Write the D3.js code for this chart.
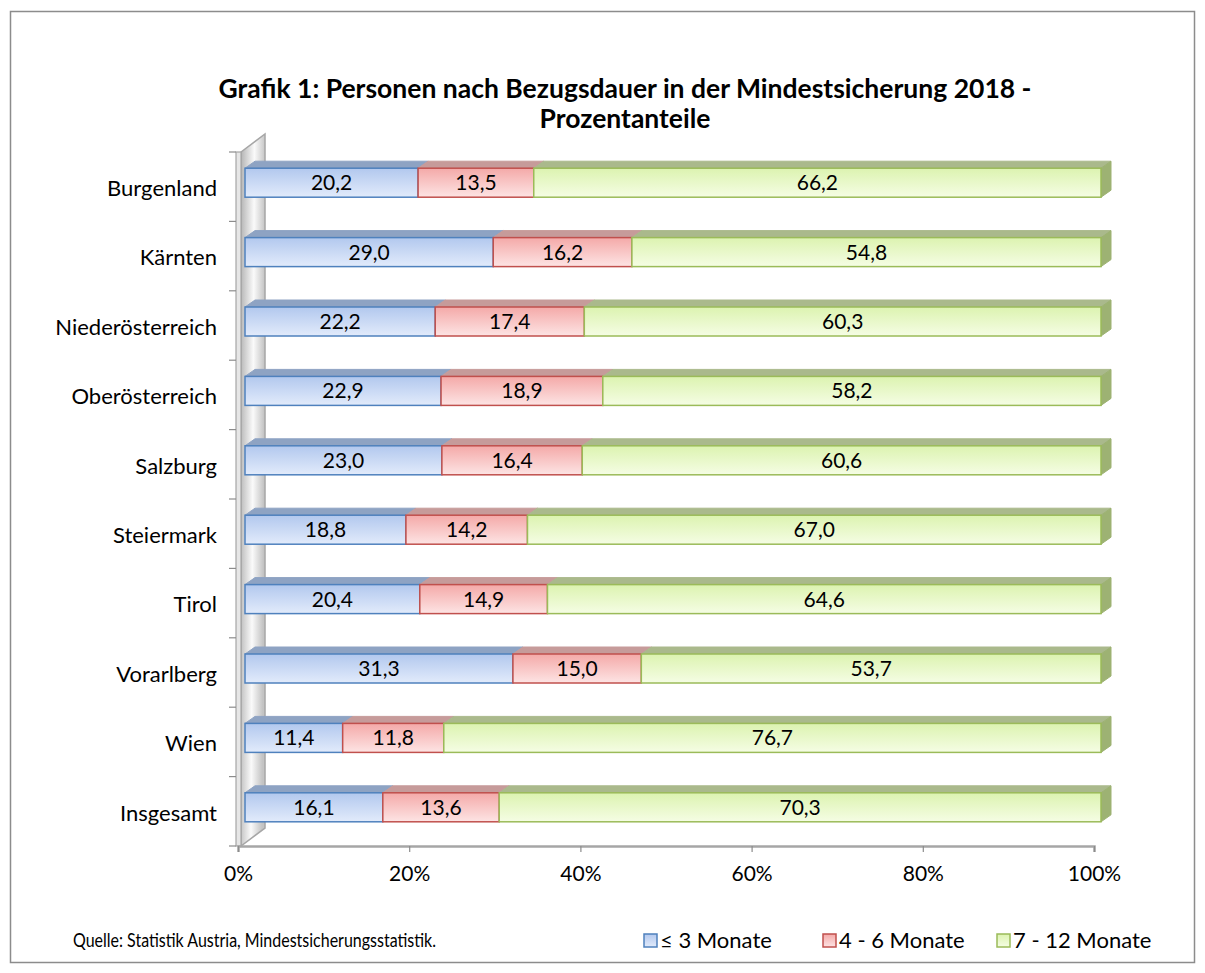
<!DOCTYPE html>
<html>
<head>
<meta charset="utf-8">
<script src="https://cdn.jsdelivr.net/npm/d3@7"></script>
<style>
  body { margin: 0; background: #fff; }
  svg text { font-family: Lato, "Open Sans", sans-serif; fill: #000; }
</style>
</head>
<body>
<svg id="chart" width="1205" height="973"></svg>
<script>
// Bundesländer, oben nach unten
const categories = ["Burgenland", "Kärnten", "Niederösterreich", "Oberösterreich", "Salzburg",
                    "Steiermark", "Tirol", "Vorarlberg", "Wien", "Insgesamt"];
const seriesNames = ["≤ 3 Monate", "4 - 6 Monate", "7 - 12 Monate"];
const upTo3 = [20.2, 29.0, 22.2, 22.9, 23.0, 18.8, 20.4, 31.3, 11.4, 16.1];
const from4to6 = [13.5, 16.2, 17.4, 18.9, 16.4, 14.2, 14.9, 15.0, 11.8, 13.6];
const from7to12 = [66.2, 54.8, 60.3, 58.2, 60.6, 67.0, 64.6, 53.7, 76.7, 70.3];
const tickValues = [0, 0.2, 0.4, 0.6, 0.8, 1];

const width = 1205, height = 973;
const depthX = 10, depthY = -7;   // 3d offset of bar tops
const wallX = 24, wallY = -18;    // depth of the side wall

// colours per series: front gradient top/bottom, stroke, top face, side face
const palette = [
    {top: "#b2c8ee", bottom: "#e2ebfb", stroke: "#4f81bd", lid: "#8ea3c3", side: "#7f96bd"},
    {top: "#f4a9a8", bottom: "#fde4e4", stroke: "#c0504d", lid: "#c69b9a", side: "#b98584"},
    {top: "#dcf3b0", bottom: "#f5fde4", stroke: "#9bbb59", lid: "#aab98c", side: "#9db273"}
];

const table = categories.map((c, i) => ({
    name: c,
    [seriesNames[0]]: upTo3[i],
    [seriesNames[1]]: from4to6[i],
    [seriesNames[2]]: from7to12[i]
}));

const stacked = d3.stack()
    .keys(seriesNames)
    .offset(d3.stackOffsetExpand)(table);

const de = d3.formatLocale({decimal: ",", thousands: ".", grouping: [3], currency: ["", " €"]});
const fmt = de.format(".1f");

const svg = d3.select("#chart");

// gradients
const defs = svg.append("defs");
palette.forEach((p, i) => {
    const g = defs.append("linearGradient")
        .attr("id", "grad" + i)
        .attr("x1", 0).attr("y1", 0).attr("x2", 0).attr("y2", 1);
    g.append("stop").attr("offset", "0%").attr("stop-color", p.top);
    g.append("stop").attr("offset", "100%").attr("stop-color", p.bottom);
});
const wallGrad = defs.append("linearGradient")
    .attr("id", "wallGrad")
    .attr("x1", 0).attr("y1", 0).attr("x2", 1).attr("y2", 0.15);
wallGrad.append("stop").attr("offset", "0%").attr("stop-color", "#b4b4b4");
wallGrad.append("stop").attr("offset", "55%").attr("stop-color", "#fafafa");
wallGrad.append("stop").attr("offset", "100%").attr("stop-color", "#c4c4c4");

// outer frame
svg.append("rect")
    .attr("x", 10.5).attr("y", 11.5)
    .attr("width", 1184).attr("height", 951)
    .attr("fill", "#fff")
    .attr("stroke", "#8c8c8c")
    .attr("stroke-width", 1.5);

// title
const title = svg.append("text")
    .attr("text-anchor", "middle")
    .style("font-weight", "bold")
    .style("font-size", "26.5px");
title.append("tspan").attr("x", 625).attr("y", 98)
    .text("Grafik 1: Personen nach Bezugsdauer in der Mindestsicherung 2018 -");
title.append("tspan").attr("x", 625).attr("y", 128)
    .text("Prozentanteile");

const x = d3.scaleLinear()
    .domain([0, 1])
    .range([238, 1094]);

const y = d3.scaleBand()
    .domain(categories)
    .range([152, 846]);

// side wall
const wallTop = y.range()[0], wallBottom = y.range()[1];
svg.append("path")
    .attr("d", `M${x(0) + 3},${wallTop} L${x(0) + 3 + wallX},${wallTop + wallY} L${x(0) + 3 + wallX},${wallBottom + wallY} L${x(0) + 3},${wallBottom} Z`)
    .attr("fill", "url(#wallGrad)")
    .attr("stroke", "#a6a6a6")
    .attr("stroke-width", 1.5);
svg.append("rect")
    .attr("x", x(0) - 2).attr("y", wallTop)
    .attr("width", 5).attr("height", wallBottom - wallTop)
    .attr("fill", "#e6e6e6")
    .attr("stroke", "#a6a6a6")
    .attr("stroke-width", 1.2);

// wall ticks
svg.append("g")
    .selectAll("line")
    .data(d3.range(categories.length + 1))
    .join("line")
    .attr("x1", x(0) - 9).attr("x2", x(0) - 2)
    .attr("y1", i => wallTop + i * y.step())
    .attr("y2", i => wallTop + i * y.step())
    .attr("stroke", "#8c8c8c")
    .attr("stroke-width", 1.2);

// bottom axis
const xAxis = svg.append("g")
    .attr("transform", `translate(0,${wallBottom})`)
    .call(d3.axisBottom(x)
        .tickValues(tickValues)
        .tickFormat(d3.format(".0%"))
        .tickSize(6)
        .tickPadding(14));
xAxis.select(".domain").attr("stroke", "#a6a6a6").attr("stroke-width", 2.5);
xAxis.selectAll(".tick line").attr("stroke", "#8c8c8c").attr("stroke-width", 1.2);
xAxis.selectAll(".tick text").style("font-size", "21px").attr("font-family", null);

// category labels
const yAxis = svg.append("g")
    .attr("transform", `translate(${x(0)},0)`)
    .call(d3.axisLeft(y).tickSize(0).tickPadding(21));
yAxis.select(".domain").remove();
yAxis.selectAll(".tick text")
    .style("font-size", "22px")
    .attr("font-family", null)
    .attr("dy", "0.42em");

// bars
const barH = 29;
const shiftX = 7, shiftY = -4;
const barY = name => y(name) + y.bandwidth() / 2 + shiftY - barH / 2;

const layers = svg.append("g")
    .selectAll("g")
    .data(stacked)
    .join("g");

layers.each(function(layer, si) {
    const p = palette[si];
    const g = d3.select(this);
    const segs = layer.map(d => ({
        name: d.data.name,
        x0: x(d[0]) + shiftX,
        x1: x(d[1]) + shiftX,
        y0: barY(d.data.name),
        value: d.data[layer.key]
    }));

    // top face
    g.selectAll("path.lid")
        .data(segs)
        .join("path")
        .attr("class", "lid")
        .attr("d", s => `M${s.x0},${s.y0} L${s.x0 + depthX},${s.y0 + depthY} L${s.x1 + depthX},${s.y0 + depthY} L${s.x1},${s.y0} Z`)
        .attr("fill", p.lid)
        .attr("stroke", p.lid)
        .attr("stroke-width", 1);

    // right side, only the last series shows it
    if (si === stacked.length - 1) {
        g.selectAll("path.side")
            .data(segs)
            .join("path")
            .attr("class", "side")
            .attr("d", s => `M${s.x1},${s.y0} L${s.x1 + depthX},${s.y0 + depthY} L${s.x1 + depthX},${s.y0 + barH + depthY} L${s.x1},${s.y0 + barH} Z`)
            .attr("fill", p.side)
            .attr("stroke", p.side)
            .attr("stroke-width", 1);
    }

    // front face
    g.selectAll("rect")
        .data(segs)
        .join("rect")
        .attr("x", s => s.x0)
        .attr("y", s => s.y0)
        .attr("width", s => s.x1 - s.x0)
        .attr("height", barH)
        .attr("fill", `url(#grad${si})`)
        .attr("stroke", p.stroke)
        .attr("stroke-width", 1.5);

    g.selectAll("text")
        .data(segs)
        .join("text")
        .attr("x", s => (s.x0 + s.x1) / 2)
        .attr("y", s => s.y0 + barH / 2)
        .attr("dy", "0.36em")
        .attr("text-anchor", "middle")
        .style("font-size", "21px")
        .text(s => fmt(s.value));
});

// source note (calibri is narrower, so squeeze it a bit)
svg.append("text")
    .attr("x", 73).attr("y", 947)
    .attr("textLength", 363)
    .attr("lengthAdjust", "spacingAndGlyphs")
    .style("font-size", "18.5px")
    .text("Quelle: Statistik Austria, Mindestsicherungsstatistik.");

// legend
const legendX = [644, 823, 997];
const legend = svg.append("g")
    .selectAll("g")
    .data(seriesNames)
    .join("g")
    .attr("transform", (d, i) => `translate(${legendX[i]},934)`);
legend.append("rect")
    .attr("width", 13).attr("height", 13)
    .attr("fill", (d, i) => `url(#grad${i})`)
    .attr("stroke", (d, i) => palette[i].stroke)
    .attr("stroke-width", 1.5);
legend.append("text")
    .attr("x", 16).attr("y", 6.5)
    .attr("dy", "0.36em")
    .style("font-size", "22px")
    .text(d => d);
</script>
</body>
</html>
